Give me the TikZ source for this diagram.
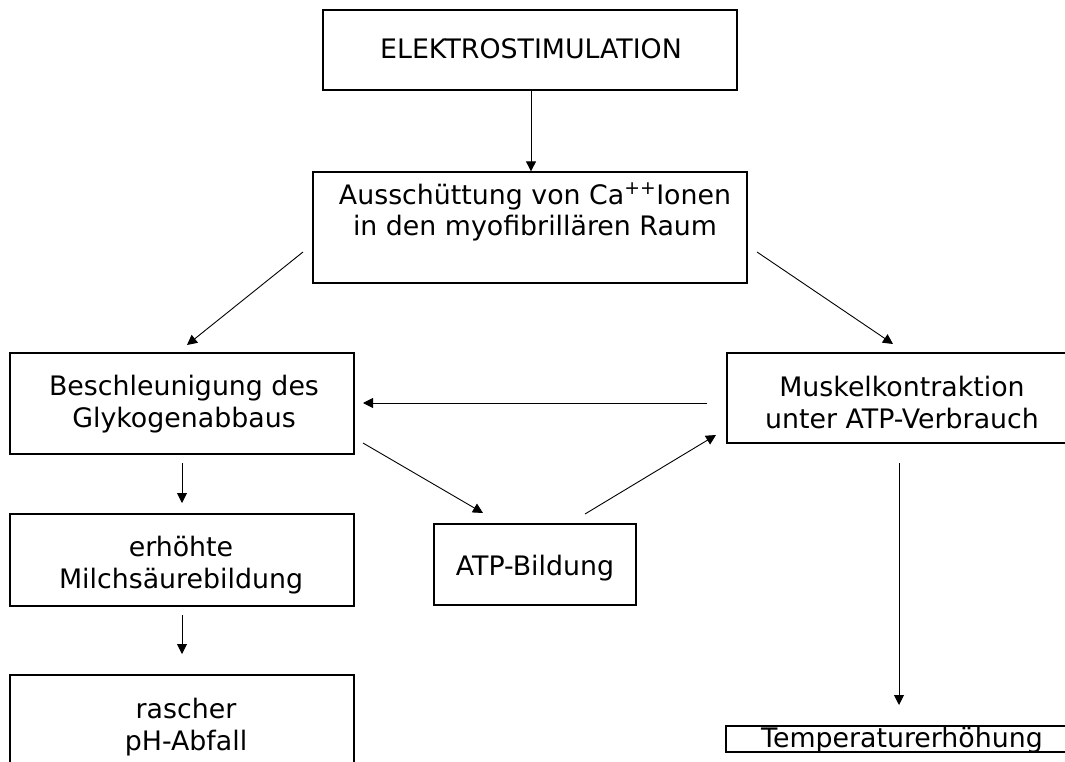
\documentclass[tikz,border=0pt]{standalone}
\usepackage{fontspec}
\setmainfont{DejaVu Sans}
\usetikzlibrary{arrows.meta}
\begin{document}
\begin{tikzpicture}[x=1pt,y=-1pt,
  box/.style={draw, line width=1.3pt, inner sep=0pt, rectangle},
  lbl/.style={anchor=base, align=center, inner sep=0pt, font=\fontsize{26.8}{32}\selectfont},
  arr/.style={line width=0.9pt, -{Triangle[length=10pt,width=10pt]}}]
\useasboundingbox (0,0) rectangle (1065,762);
\clip (0,0) rectangle (1065,762);
\fill[white] (0,0) rectangle (1065,762);
% boxes
\node[box, minimum width=414pt, minimum height=80pt] (b1) at (530,50) {};
\node[box, minimum width=434pt, minimum height=111pt] (b2) at (530,227.5) {};
\node[box, minimum width=344pt, minimum height=101pt] (b3) at (182,403.5) {};
\node[box, minimum width=348pt, minimum height=90pt] (b4) at (901,398) {};
\node[box, minimum width=344pt, minimum height=92pt] (b5) at (182,560) {};
\node[box, minimum width=202pt, minimum height=81pt] (b6) at (535,564.5) {};
\node[box, minimum width=344pt, minimum height=115pt] (b7) at (182,732.5) {};
\node[box, minimum width=354pt, minimum height=26pt] (b8) at (903,739) {};
% texts (base = baseline of last line)
\node[lbl] (t1) at (531,59) {ELEKTROSTIMULATION};
\node[lbl] (t2) at (535,236) {Ausschüttung von Ca\textsuperscript{++}Ionen\\in den myofibrillären Raum};
\node[lbl] (t3) at (184,427) {Beschleunigung des\\Glykogenabbaus};
\node[lbl] (t4) at (902,428) {Muskelkontraktion\\unter ATP-Verbrauch};
\node[lbl] (t5) at (181,588) {erhöhte\\Milchsäurebildung};
\node[lbl] (t6) at (535,575) {ATP-Bildung};
\node[lbl] (t7) at (186,750) {rascher\\pH-Abfall};
\node[lbl] (t8) at (902,747) {Temperaturerhöhung};
% connector ends
\coordinate (p2s) at (303,252); \coordinate (p2e) at (187,345);
\coordinate (p3s) at (757,252); \coordinate (p3e) at (893,344);
\coordinate (p4s) at (707,403); \coordinate (p4e) at (363,403);
\coordinate (p5s) at (363,443); \coordinate (p5e) at (483,513);
\coordinate (p6s) at (585,514); \coordinate (p6e) at (716,435);
\coordinate (p7s) at (182,463); \coordinate (p7e) at (182,503);
\coordinate (p8s) at (182,615); \coordinate (p8e) at (182,654);
\coordinate (p9s) at (899,463); \coordinate (p9e) at (899,705);
% connectors
\draw[arr] ([xshift=1pt]b1.south) -- ([xshift=1pt]b2.north);
\draw[arr] (p2s) -- (p2e);
\draw[arr] (p3s) -- (p3e);
\draw[arr] (p4s) -- (p4e);
\draw[arr] (p5s) -- (p5e);
\draw[arr] (p6s) -- (p6e);
\draw[arr] (p7s) -- (p7e);
\draw[arr] (p8s) -- (p8e);
\draw[arr] (p9s) -- (p9e);
\end{tikzpicture}
\end{document}
